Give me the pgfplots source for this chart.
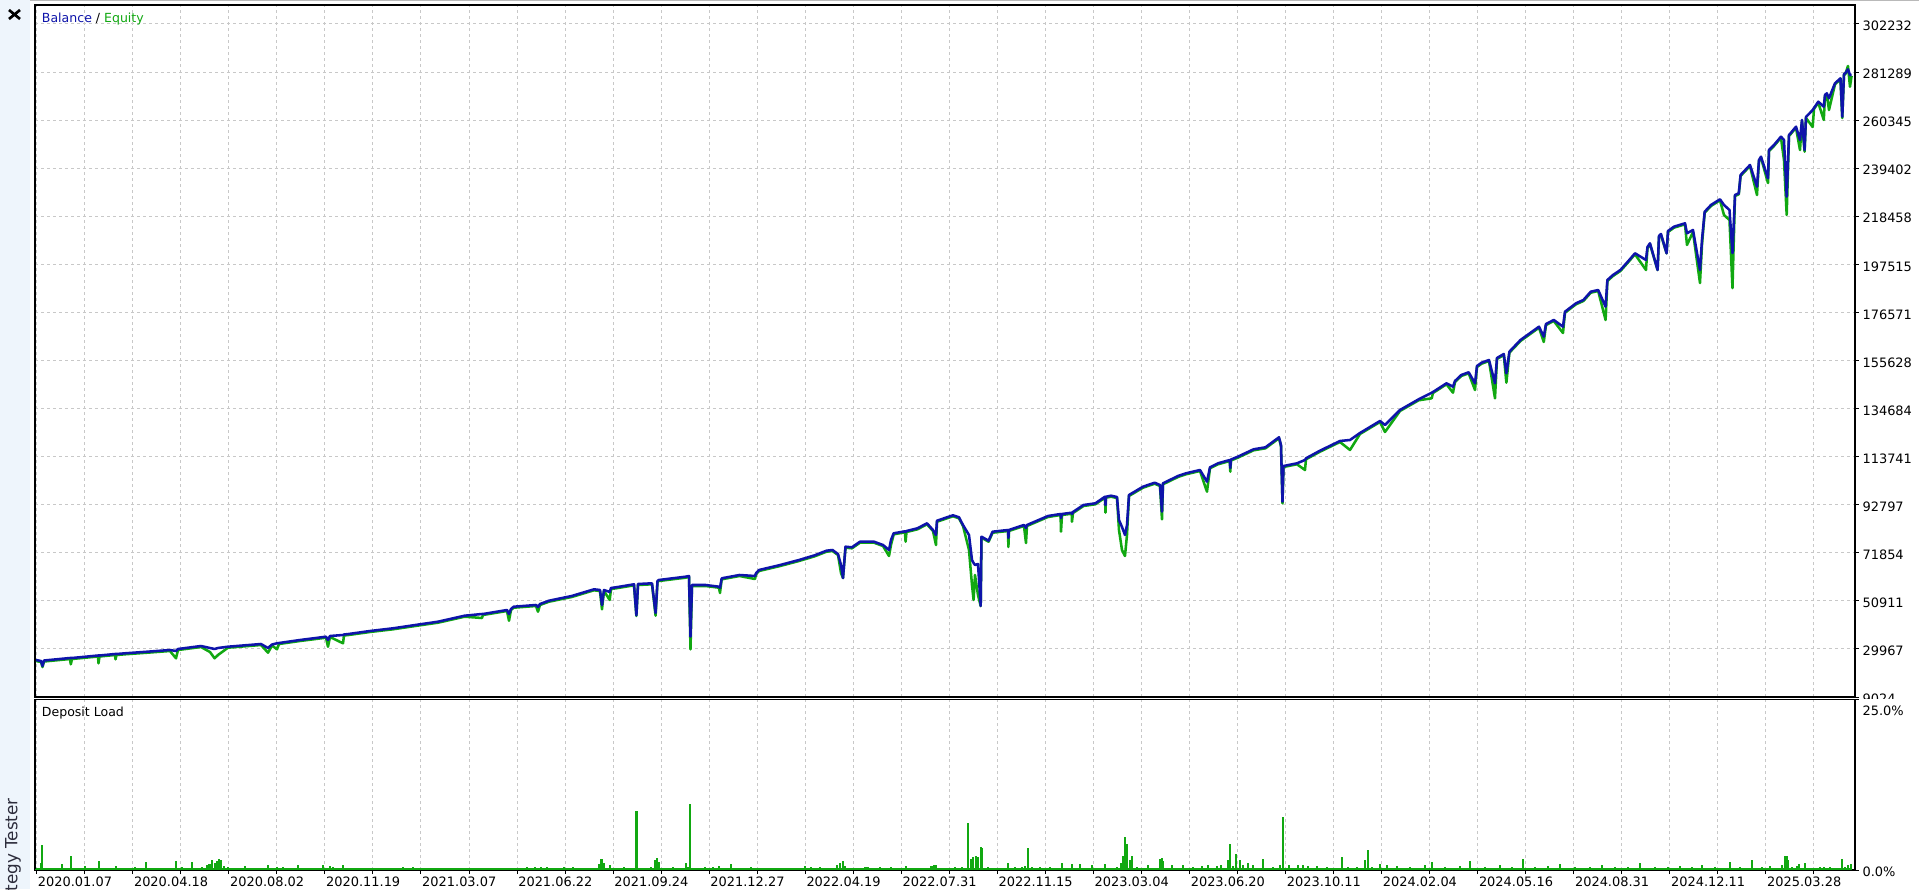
\documentclass[border=0pt]{standalone}
\usepackage{fontspec}
\setmainfont{DejaVu Sans}
\usepackage{pgfplots}
\pgfplotsset{compat=1.18}
\usepackage{pgfplotstable}
\definecolor{bal}{RGB}{14,20,170}
\definecolor{eqc}{RGB}{17,168,17}
\definecolor{gridc}{RGB}{200,200,200}
\definecolor{strip}{RGB}{238,245,252}
\definecolor{stxt}{RGB}{45,45,60}

\pgfplotstableread{
x bal eq
36 25144 24708
41 24708 24272
42.5 22530 22094
44 24926 24490
70 26015 25579
70.8 26015 23270
72 26015 25579
98 27104 26669
98.5 27104 23706
99.5 27104 26669
115 27758 27322
115.5 27758 25449
116.5 27758 27322
125 28063 27627
150 28847 28411
170 29500 29065
176 29065 25884
178 29936 29500
201 31243 30807
210 30372 28629
214.6 29936 25884
218 30372 27322
228 30938 30503
261 32115 31679
268 30372 28324
272 31897 31461
277 32420 29806
279 32550 32115
300 33857 33422
326 35295 34859
328 33857 30938
330 35600 35164
343 36036 32420
344 36253 35818
348.5 36471 36036
370 37778 37343
393 38955 38519
420 40697 40262
438 41830 41394
464.6 44444 44008
482 45185 43442
483 45185 44749
495 46056 45620
507 46927 46492
509 45185 42266
511 47363 46927
513.7 48365 47929
536 49106 48670
538 48234 46187
540 49541 49106
549 50979 50543
571.7 53027 52591
594 55946 55510
600 55641 55205
602 49106 47232
604 55641 55205
609.7 54769 51284
611 56512 56076
616 56817 56381
634 58124 57688
636.4 44618 44313
638 58255 57819
652 58560 58124
655.6 45620 44444
657.5 59562 59126
658.8 59997 59562
685.5 61435 60999
689 61740 61304
690.5 35295 29806
692 57819 57383
705.6 57819 57383
719 57078 56643
720 56512 54334
721.7 60738 60302
739.5 62176 61740
755 61740 60433
756 62916 62481
759 64354 63918
779 66402 65966
799 68711 68275
814.7 70758 70323
826.5 72762 72327
832.5 73068 72632
838 71325 70889
841 66532 63047
843 60869 60869
845.5 74505 74070
852 74244 73808
860 76684 76248
874 76684 76248
883 75246 74810
889 73068 70454
891 77424 75246
893.7 80343 79908
905 81215 80779
905.6 80910 76684
906.5 81345 80910
917.5 82522 82086
927 84701 84265
933 81781 81345
936 79603 75246
937 85834 85398
953 88185 87750
959 87314 86878
963 83959 83524
969 79603 73068
972 68711 57819
973.6 67404 51284
975 66532 62176
978 66968 53462
980.7 48670 48670
981.5 78862 78426
988.6 77119 76684
992.6 81040 80605
1008 81781 81345
1008.4 78296 74375
1009 81781 81345
1024 83959 83524
1026 82652 76117
1027 83959 83524
1048 87880 87445
1060.6 88752 88316
1061 87009 81040
1062 88752 88316
1071.7 89320 88884
1072 88752 85398
1073 89623 89187
1083.5 92673 92237
1095.4 93413 92978
1105 96289 95853
1105.5 92673 89320
1106 96289 95853
1111 96724 96289
1117 96158 95722
1119 86138 81781
1122 83088 73068
1125 79603 70454
1127 83959 79603
1129 97029 96594
1143 100645 100210
1154.7 102388 101952
1160 101386 100950
1162 89756 86445
1163 102127 101691
1178 105307 104871
1186 106483 106048
1200 107921 107485
1207 102824 98467
1210 109097 108662
1218 110840 110404
1229.8 112278 111842
1230.3 108792 107180
1231 112496 112060
1237.8 113715 113280
1253.6 116940 116504
1265.5 117811 117375
1279 122167 121732
1281 118813 118377
1282.5 94110 93413
1283.5 109664 109228
1297 110840 110404
1305 112278 107921
1306 113018 112583
1320 116330 115894
1340 120556 120120
1350 120991 116635
1360 124041 123605
1380 129269 128833
1385 127526 124477
1400 134061 133626
1418.7 138723 138287
1431.7 141596 139159
1433 141903 141468
1446.5 145694 145258
1453 144212 141596
1455 146696 146260
1461.3 149310 148874
1468.7 150486 150050
1475 145694 142775
1477 153231 152795
1481.6 154669 154233
1489 155845 155409
1495 145694 139159
1497 156716 156280
1503.8 158459 158023
1506.4 150050 145955
1509.4 159461 159025
1520.5 164558 164123
1539 170353 169917
1543.8 165996 163687
1546 171529 171093
1553.8 173272 172836
1563 170353 167608
1565 176888 176452
1576 180547 180112
1583.4 181985 181549
1590.8 185601 185165
1598.2 186342 185906
1605.6 179066 173272
1607.4 190698 190263
1613 192877 192441
1620.4 195055 194619
1627.8 198671 198236
1635 202331 201895
1646 199412 195055
1647.5 205076 204640
1650 206688 206252
1657.6 195055 195055
1659 209868 209432
1661 210739 210304
1666.6 202331 202331
1668 212046 211611
1674 213920 213484
1685 215401 214965
1687 211044 205947
1693 212482 211611
1700 195055 189391
1702 208125 205947
1704.7 220455 220019
1711 223374 222938
1720 225857 225421
1724 223374 219017
1729.5 221195 216839
1732.5 202461 187213
1735 227730 227295
1738.8 228471 228035
1740.6 236444 236008
1750 240800 240365
1757 231346 227730
1759 242979 242543
1761 244417 243981
1768 235006 232958
1769 247336 246900
1774 249514 249078
1781 253130 252694
1784 251692 242979
1786.7 226990 219017
1789 253871 253435
1790.5 254611 254176
1796 257487 257051
1800 251692 247336
1802 260406 259970
1804.6 247336 246595
1806 261713 261277
1812.7 264762 257356
1814 265634 265198
1818.3 268378 267943
1823.8 266200 260406
1825 271297 270862
1826.8 272038 271602
1829 269860 264762
1835 276395 275959
1840.5 278573 278137
1842.3 261843 261277
1844 280446 280011
1845.3 280751 280316
1848 282494 283932
1850 280011 274913
1851.6 280011 279575
}\curve

\pgfplotstableread{
x load
36 0.15
41 1.0
42.3 3.6
46.7 0.25
53.3 0.25
62.3 0.9
65.7 0.25
70.7 2.05
76.7 0.25
85 0.6
99 1.3
115.7 0.6
124 0.25
135 0.4
145.7 1.2
155 0.25
165 0.2
175.7 1.3
182.3 0.5
191.7 1.2
201.7 0.5
206.7 0.7
209.5 0.9
212.3 1.5
215 1.1
217 1.3
219 1.6
221 1.5
224 0.6
228.3 0.5
245 0.6
253.3 0.25
262 0.3
268.3 0.7
276.7 0.5
283.3 0.4
297.7 0.7
308.3 0.25
316 0.2
323.3 0.8
330 0.6
333.3 0.5
343.3 0.7
353.3 0.25
363.3 0.15
380 0.2
396.5 0.2
403.4 0.4
413 0.4
423.5 0.2
449 0.2
478 0.3
484 0.3
504 0.3
512 0.3
527 0.4
535 0.4
541 0.4
547 0.4
564 0.4
573 0.5
593 0.25
599 0.9
601.5 1.6
604 1.0
610 0.7
618.7 0.3
624.4 0.4
636.5 8.65
644.5 0.25
651.4 0.4
654.8 1.4
657 1.7
659.4 1.2
673 0.4
680 0.25
686.4 1.1
688.5 0.5
690.4 9.7
704.8 0.4
713.4 0.4
719 0.6
730.6 0.9
736.4 0.25
750.7 0.4
758 0.2
776.5 0.2
789.7 0.25
805 0.6
811 0.5
819.6 0.5
828 0.35
836.8 0.7
839.7 1.0
842.6 1.3
845.4 0.6
865.5 0.4
868.4 0.4
879.9 0.4
891.3 0.4
905.7 0.6
915 0.3
925 0.2
931.5 0.6
934.4 0.7
936 0.8
950 0.3
955 0.5
961.7 0.4
968.3 6.9
970.7 1.6
973.3 1.9
976 2.0
978.3 1.9
980.7 3.4
982.3 3.2
988.3 0.5
1003.3 0.3
1008.3 1.1
1015 0.4
1021.7 0.5
1025 0.6
1027.7 3.2
1031.7 0.4
1040 0.4
1050 0.5
1061.7 1.0
1071.7 0.9
1080 0.9
1091.7 0.8
1105 0.9
1116.7 0.4
1120.7 1.1
1122.7 2.0
1125 4.9
1126.7 3.8
1130 1.4
1131.7 2.0
1136.7 0.4
1148.3 0.8
1160 1.6
1161.7 1.8
1163.3 1.3
1171.7 0.8
1183.3 0.8
1193.3 0.4
1201.7 0.6
1208.3 0.8
1216.7 0.6
1220.7 0.8
1228.3 1.4
1230 3.8
1233.3 0.6
1236 2.4
1240 1.4
1243.3 0.8
1248.3 1.1
1253.3 0.8
1263.3 1.6
1273.3 0.4
1280 0.8
1283.3 7.7
1289.3 0.8
1298.3 0.8
1303.3 0.8
1308.3 0.6
1316.7 0.6
1326.7 0.4
1341.7 1.9
1348.3 0.4
1356.7 0.4
1365 1.4
1368.3 2.9
1371.7 0.4
1380 0.9
1386.7 0.8
1396.7 0.6
1410 0.5
1425 0.8
1432 1.2
1445 0.4
1460 0.6
1470 1.3
1485 0.5
1500 0.7
1512 0.4
1523 1.6
1535 0.5
1548 0.6
1560 0.9
1575 0.4
1590 0.5
1602 0.7
1615 0.4
1628 0.5
1640 1.0
1655 0.4
1668 0.5
1680 0.6
1692 0.4
1702 0.8
1715 0.5
1730 1.2
1740 0.5
1752 1.5
1762 0.5
1770 0.6
1781.7 0.7
1785 2.0
1786.7 2.05
1788.3 1.5
1791.7 0.5
1796.7 0.6
1799 0.9
1805 1.0
1813.3 0.25
1820 0.4
1824 0.5
1830 0.4
1833.3 0.25
1841.7 1.6
1845 0.5
1848.3 0.7
1851 0.9
}\load

\pgfplotsset{
  mtstyle/.style={
    scale only axis, width=1365pt,
    xmin=35, xmax=1855,
    axis line style={line width=0.9pt, black},
    xtick={36.7,84.735,...,1815},
    tick align=outside,
    major tick length=3pt,
    every tick/.style={black, line width=0.75pt},
    major grid style={gridc, dash pattern=on 2.25pt off 2.25pt, line width=0.75pt},
    ytick pos=right, yticklabel pos=right,
    tick label style={font=\fontsize{9.7pt}{11pt}\selectfont},
    yticklabel style={anchor=west, inner sep=0pt, xshift=2.5pt, yshift=-1.5pt},
  }
}

\begin{document}
\begin{tikzpicture}[x=0.75pt,y=0.75pt]
\useasboundingbox (0,0) rectangle (1919,889);
\fill[white] (0,0) rectangle (1919,889);
\fill[strip] (0,0) rectangle (30,889);
\draw[gray!55, line width=1.5pt] (30,888.5) -- (1919,888.5);
\draw[black, line width=2pt] (9,879) -- (20,870) (9,870) -- (20,879);
\node[rotate=90, anchor=east, inner sep=0pt, text=stxt, font=\fontsize{12.6pt}{14pt}\selectfont] at (13,91) {Strategy Tester};

\begin{axis}[mtstyle,
  at={(26.25pt,144pt)}, anchor=south west, height=519pt,
  ymin=9024, ymax=310508,
  xticklabels={}, xtick style={draw=none},
  grid=major,
  ytick={9024,29967,50911,71854,92797,113741,134684,155628,176571,197515,218458,239402,260345,281289,302232},
  yticklabels={9024,29967,50911,71854,92797,113741,134684,155628,176571,197515,218458,239402,260345,281289,302232},
]
\addplot[eqc, line width=1.9pt, line join=round] table[x=x, y=eq]{\curve};
\addplot[bal, line width=1.9pt, line join=round] table[x=x, y=bal]{\curve};
\end{axis}

\fill[white] (1856.5,177) rectangle (1919,190.5);

\begin{axis}[mtstyle,
  at={(26.25pt,14.25pt)}, anchor=south west, height=127.875pt,
  ymin=0, ymax=25,
  xmajorgrids=true, ymajorgrids=false,
  xtick pos=bottom,
  xticklabels={{2020.01.07},{},{2020.04.18},{},{2020.08.02},{},{2020.11.19},{},{2021.03.07},{},{2021.06.22},{},{2021.09.24},{},{2021.12.27},{},{2022.04.19},{},{2022.07.31},{},{2022.11.15},{},{2023.03.04},{},{2023.06.20},{},{2023.10.11},{},{2024.02.04},{},{2024.05.16},{},{2024.08.31},{},{2024.12.11},{},{2025.03.28},{}},
  xticklabel style={anchor=north west, inner sep=0pt, xshift=0.75pt, yshift=-2pt},
  ytick={0}, yticklabels={0.0\%},
  extra y ticks={25}, extra y tick labels={25.0\%},
  extra y tick style={yticklabel style={yshift=-7pt}},
]
\addplot[eqc, line width=1.1pt] coordinates {(36,0.12) (1852,0.12)};
\addplot[ycomb, eqc, line width=1.6pt] table[x=x, y=load]{\load};
\end{axis}

\node[anchor=base west, inner sep=0pt, font=\fontsize{9.4pt}{11pt}\selectfont] at (41.7,866.3) {\textcolor{bal}{Balance} / \textcolor{eqc}{Equity}};
\node[anchor=base west, inner sep=0pt, font=\fontsize{9.4pt}{11pt}\selectfont] at (41.7,172.3) {Deposit Load};
\end{tikzpicture}
\end{document}
